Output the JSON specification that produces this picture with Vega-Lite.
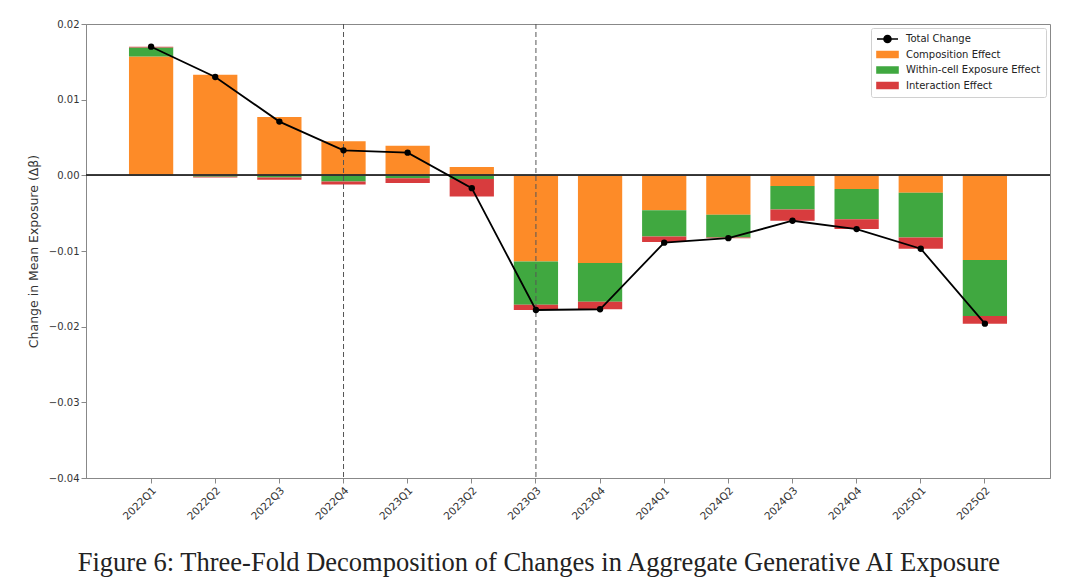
{
  "$schema": "https://vega.github.io/schema/vega-lite/v6.json",
  "width": 964,
  "height": 454,
  "padding": {"left": 27, "top": 19, "right": 30, "bottom": 5},
  "background": "white",
  "title": {
    "text": "Figure 6: Three-Fold Decomposition of Changes in Aggregate Generative AI Exposure",
    "orient": "bottom",
    "anchor": "middle",
    "frame": "bounds",
    "font": "Liberation Serif",
    "fontSize": 26.5,
    "fontWeight": "normal",
    "color": "#222",
    "offset": 28
  },
  "config": {
    "font": "DejaVu Sans",
    "view": {"stroke": "#888", "strokeWidth": 1},
    "axis": {
      "grid": false,
      "domainColor": "#888",
      "tickColor": "#888",
      "labelColor": "#333",
      "labelFontSize": 10,
      "titleColor": "#333",
      "titleFontSize": 12.5,
      "titleFontWeight": "normal"
    },
    "legend": {
      "title": null,
      "orient": "top-right",
      "offset": 4,
      "padding": 5,
      "strokeColor": "#d0d0d0",
      "fillColor": "white",
      "cornerRadius": 2,
      "labelFontSize": 10,
      "labelColor": "#222",
      "symbolSize": 100,
      "labelOffset": 18,
      "rowPadding": 1.5
    }
  },
  "datasets": {
    "bars": [
      {"quarter": "2022Q1", "component": "Composition Effect", "value": 0.0157, "order": 1},
      {"quarter": "2022Q1", "component": "Within-cell Exposure Effect", "value": 0.0012, "order": 2},
      {"quarter": "2022Q1", "component": "Interaction Effect", "value": 0.0001, "order": 3},
      {"quarter": "2022Q2", "component": "Composition Effect", "value": 0.0133, "order": 1},
      {"quarter": "2022Q2", "component": "Within-cell Exposure Effect", "value": -0.0002, "order": 2},
      {"quarter": "2022Q2", "component": "Interaction Effect", "value": -0.0001, "order": 3},
      {"quarter": "2022Q3", "component": "Composition Effect", "value": 0.0077, "order": 1},
      {"quarter": "2022Q3", "component": "Within-cell Exposure Effect", "value": -0.0003, "order": 2},
      {"quarter": "2022Q3", "component": "Interaction Effect", "value": -0.0003, "order": 3},
      {"quarter": "2022Q4", "component": "Composition Effect", "value": 0.0045, "order": 1},
      {"quarter": "2022Q4", "component": "Within-cell Exposure Effect", "value": -0.0008, "order": 2},
      {"quarter": "2022Q4", "component": "Interaction Effect", "value": -0.0004, "order": 3},
      {"quarter": "2023Q1", "component": "Composition Effect", "value": 0.0039, "order": 1},
      {"quarter": "2023Q1", "component": "Within-cell Exposure Effect", "value": -0.0004, "order": 2},
      {"quarter": "2023Q1", "component": "Interaction Effect", "value": -0.0006, "order": 3},
      {"quarter": "2023Q2", "component": "Composition Effect", "value": 0.0011, "order": 1},
      {"quarter": "2023Q2", "component": "Within-cell Exposure Effect", "value": -0.0005, "order": 2},
      {"quarter": "2023Q2", "component": "Interaction Effect", "value": -0.0023, "order": 3},
      {"quarter": "2023Q3", "component": "Composition Effect", "value": -0.0114, "order": 1},
      {"quarter": "2023Q3", "component": "Within-cell Exposure Effect", "value": -0.0057, "order": 2},
      {"quarter": "2023Q3", "component": "Interaction Effect", "value": -0.0007, "order": 3},
      {"quarter": "2023Q4", "component": "Composition Effect", "value": -0.0116, "order": 1},
      {"quarter": "2023Q4", "component": "Within-cell Exposure Effect", "value": -0.0051, "order": 2},
      {"quarter": "2023Q4", "component": "Interaction Effect", "value": -0.0010, "order": 3},
      {"quarter": "2024Q1", "component": "Composition Effect", "value": -0.0046, "order": 1},
      {"quarter": "2024Q1", "component": "Within-cell Exposure Effect", "value": -0.0035, "order": 2},
      {"quarter": "2024Q1", "component": "Interaction Effect", "value": -0.0007, "order": 3},
      {"quarter": "2024Q2", "component": "Composition Effect", "value": -0.0052, "order": 1},
      {"quarter": "2024Q2", "component": "Within-cell Exposure Effect", "value": -0.0030, "order": 2},
      {"quarter": "2024Q2", "component": "Interaction Effect", "value": -0.0001, "order": 3},
      {"quarter": "2024Q3", "component": "Composition Effect", "value": -0.0014, "order": 1},
      {"quarter": "2024Q3", "component": "Within-cell Exposure Effect", "value": -0.0031, "order": 2},
      {"quarter": "2024Q3", "component": "Interaction Effect", "value": -0.0015, "order": 3},
      {"quarter": "2024Q4", "component": "Composition Effect", "value": -0.0018, "order": 1},
      {"quarter": "2024Q4", "component": "Within-cell Exposure Effect", "value": -0.0040, "order": 2},
      {"quarter": "2024Q4", "component": "Interaction Effect", "value": -0.0013, "order": 3},
      {"quarter": "2025Q1", "component": "Composition Effect", "value": -0.0023, "order": 1},
      {"quarter": "2025Q1", "component": "Within-cell Exposure Effect", "value": -0.0059, "order": 2},
      {"quarter": "2025Q1", "component": "Interaction Effect", "value": -0.0015, "order": 3},
      {"quarter": "2025Q2", "component": "Composition Effect", "value": -0.0112, "order": 1},
      {"quarter": "2025Q2", "component": "Within-cell Exposure Effect", "value": -0.0074, "order": 2},
      {"quarter": "2025Q2", "component": "Interaction Effect", "value": -0.0010, "order": 3}
    ],
    "total": [
      {"quarter": "2022Q1", "total": 0.0170},
      {"quarter": "2022Q2", "total": 0.0130},
      {"quarter": "2022Q3", "total": 0.0071},
      {"quarter": "2022Q4", "total": 0.0033},
      {"quarter": "2023Q1", "total": 0.0030},
      {"quarter": "2023Q2", "total": -0.0017},
      {"quarter": "2023Q3", "total": -0.0178},
      {"quarter": "2023Q4", "total": -0.0177},
      {"quarter": "2024Q1", "total": -0.0089},
      {"quarter": "2024Q2", "total": -0.0083},
      {"quarter": "2024Q3", "total": -0.0060},
      {"quarter": "2024Q4", "total": -0.0071},
      {"quarter": "2025Q1", "total": -0.0097},
      {"quarter": "2025Q2", "total": -0.0196}
    ],
    "breaks": [
      {"quarter": "2022Q4"},
      {"quarter": "2023Q3"}
    ]
  },
  "encoding": {
    "x": {
      "field": "quarter",
      "type": "nominal",
      "sort": null,
      "title": null,
      "scale": {"paddingInner": 0.31, "paddingOuter": 0.67},
      "axis": {"labelAngle": -45, "labelAlign": "right", "labelBaseline": "top", "tickSize": 5, "labelPadding": 2, "labelFontSize": 10.5}
    }
  },
  "layer": [
    {
      "data": {"name": "bars"},
      "mark": {"type": "bar", "opacity": 1},
      "encoding": {
        "y": {
          "field": "value",
          "type": "quantitative",
          "stack": "zero",
          "title": "Change in Mean Exposure (Δβ)",
          "scale": {"domain": [-0.04, 0.02], "nice": false, "zero": false},
          "axis": {"values": [-0.04, -0.03, -0.02, -0.01, 0, 0.01, 0.02], "format": ".2f", "tickSize": 5, "labelPadding": 2, "titlePadding": 8}
        },
        "order": {"field": "order", "type": "quantitative"},
        "color": {
          "field": "component",
          "type": "nominal",
          "scale": {
            "domain": ["Total Change", "Composition Effect", "Within-cell Exposure Effect", "Interaction Effect"],
            "range": ["#000000", "#fd8b28", "#40a840", "#d83c3e"]
          },
          "legend": {
            "encode": {
              "symbols": {
                "update": {
                  "shape": {"signal": "datum.value === 'Total Change' ? 'M-1,0H3.2M0.4,0A0.7,0.7 0 1,1 1.8,0A0.7,0.7 0 1,1 0.4,0' : 'M-1,-0.6H3.2V0.6H-1Z'"},
                  "stroke": {"signal": "datum.value === 'Total Change' ? '#000000' : 'transparent'"},
                  "strokeWidth": {"value": 1.6},
                  "opacity": {"value": 1}
                }
              }
            }
          }
        }
      }
    },
    {
      "data": {"name": "breaks"},
      "mark": {"type": "rule", "color": "#555", "strokeDash": [5, 3], "strokeWidth": 1},
      "encoding": {}
    },
    {
      "data": {"name": "total"},
      "mark": {"type": "rule", "color": "#333", "strokeWidth": 1},
      "encoding": {"y": {"datum": 0}, "x": null}
    },
    {
      "data": {"name": "total"},
      "mark": {"type": "line", "strokeWidth": 1.8, "point": {"filled": true, "size": 40, "color": "black"}},
      "encoding": {
        "y": {"field": "total", "type": "quantitative"},
        "color": {
          "datum": "Total Change",
          "legend": {
            "encode": {
              "symbols": {
                "update": {
                  "shape": {"signal": "datum.value === 'Total Change' ? 'M-1,0H3.2M0.4,0A0.7,0.7 0 1,1 1.8,0A0.7,0.7 0 1,1 0.4,0' : 'M-1,-0.6H3.2V0.6H-1Z'"},
                  "stroke": {"signal": "datum.value === 'Total Change' ? '#000000' : 'transparent'"},
                  "strokeWidth": {"value": 1.6},
                  "opacity": {"value": 1}
                }
              }
            }
          }
        }
      }
    }
  ]
}
